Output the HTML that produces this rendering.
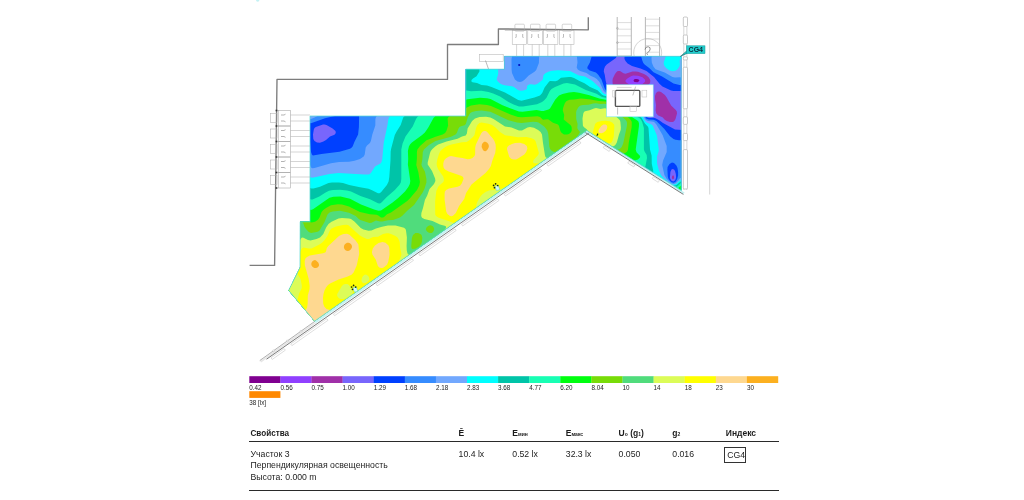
<!DOCTYPE html>
<html><head><meta charset="utf-8"><title>Report</title>
<style>
html,body{margin:0;padding:0;background:#fff;}
body{width:1024px;height:500px;overflow:hidden;position:relative;font-family:"Liberation Sans",sans-serif;}
svg{position:absolute;left:0;top:0;}
#w{position:absolute;left:0;top:0;width:1024px;height:500px;filter:blur(0.4px);}
.leg text{font-size:6.3px;fill:#222;}
.t{position:absolute;font-size:8.7px;color:#1c1c1c;white-space:nowrap;line-height:11.2px;}
.h{font-weight:bold;font-size:8.5px;}
.rule{position:absolute;left:249px;width:529.6px;background:#2a2a2a;}
sub{font-size:5px;vertical-align:baseline;position:relative;top:0.5px;}
</style></head>
<body>
<div id="w">
<svg width="1024" height="500" viewBox="0 0 1024 500">
<defs><clipPath id="hc"><polygon points="310,116 465.8,116 465.8,69.2 504.4,69.2 504.4,56.3 681.2,56.3 681.2,190.5 586.8,130.4 314.5,321.2 288.6,290.4 300,267.5 300.2,221.8 310,221.8"/></clipPath></defs>
<g clip-path="url(#hc)">
<polygon points="310,116 465.8,116 465.8,69.2 504.4,69.2 504.4,56.3 681.2,56.3 681.2,190.5 586.8,130.4 314.5,321.2 288.6,290.4 300,267.5 300.2,221.8 310,221.8" fill="#800090"/>
<path d="M284.0 52.0 685.5 52.0 685.5 325.5 284.0 325.5ZM635.1 79.0 634.0 79.5 633.5 80.5 634.0 81.5 634.7 82.0 637.5 82.2 639.3 81.0 639.2 80.0 638.5 79.5 637.0 79.0Z" fill="#9040ff" fill-rule="evenodd"/>
<path d="M284.0 52.0 685.5 52.0 685.5 325.5 284.0 325.5ZM633.3 75.5 631.5 76.0 628.9 77.5 626.7 79.0 625.5 80.5 625.5 81.5 626.3 82.5 630.0 85.1 633.5 86.1 638.5 85.3 642.5 84.1 644.8 82.0 645.2 81.0 644.9 79.5 642.5 77.2 638.0 75.7Z" fill="#a030a8" fill-rule="evenodd"/>
<path d="M284.0 52.0 685.5 52.0 685.5 325.5 284.0 325.5ZM617.8 71.0 616.5 72.0 615.0 74.0 612.8 78.5 612.5 80.5 612.7 84.5 613.5 87.0 616.5 88.2 627.5 89.3 631.0 90.7 634.0 93.1 643.9 103.5 648.0 108.8 649.0 109.4 650.0 108.8 651.1 107.5 651.6 106.0 651.8 104.0 651.5 102.0 646.7 92.5 644.0 90.0 643.6 89.0 644.6 87.5 649.0 84.2 650.0 83.0 650.3 81.5 650.2 80.0 648.8 77.5 646.6 75.5 644.0 73.9 638.0 71.8 635.5 71.5 632.5 71.6 625.5 73.7 623.5 73.2 620.0 71.1ZM657.9 91.5 656.0 93.0 655.0 96.0 655.1 99.5 656.0 105.0 655.6 110.5 656.3 113.5 658.2 115.5 662.5 117.3 664.5 119.5 666.7 121.0 670.0 122.1 673.0 121.9 674.5 120.8 675.5 119.0 677.0 113.5 676.8 111.5 675.8 110.0 671.1 105.5 666.7 97.5 664.9 95.0 661.0 92.1 659.5 91.5ZM673.0 175.2 672.0 176.5 671.9 178.0 672.5 179.0 673.0 179.2 673.9 178.5 674.1 177.0 673.5 175.5Z" fill="#7866fc" fill-rule="evenodd"/>
<path d="M284.0 52.0 616.7 52.0 616.8 56.0 615.9 58.0 606.7 64.5 605.0 66.6 604.0 69.2 603.8 71.5 604.8 75.0 605.6 80.5 607.3 87.0 608.1 88.5 609.8 89.5 612.5 90.2 625.5 91.4 629.1 93.0 633.0 96.5 644.0 108.0 645.2 110.5 646.5 116.3 647.5 117.6 649.5 118.0 653.5 117.8 655.5 118.3 658.8 120.0 663.0 122.9 675.0 129.5 685.5 130.2 685.5 325.5 284.0 325.5ZM323.0 124.5 315.8 127.0 314.5 128.0 313.8 129.5 313.0 134.5 313.3 139.0 314.5 141.1 317.0 142.4 320.0 142.7 323.4 141.5 326.0 140.0 330.0 136.5 334.5 134.7 335.8 133.0 335.5 131.0 332.6 128.5 326.5 125.0 324.5 124.5ZM671.5 169.5 670.4 172.0 669.9 178.0 671.2 180.5 672.5 181.3 673.5 181.4 674.9 180.5 675.7 179.0 676.1 177.0 675.8 174.0 675.0 171.0 674.0 169.6 672.5 169.0ZM624.5 52.0 685.5 52.0 685.5 90.8 673.5 91.1 671.0 90.4 662.5 86.5 659.7 84.0 654.0 77.0 646.5 71.0 640.5 68.4 632.0 66.0 627.6 63.5 625.5 61.0 624.5 59.0Z" fill="#0040ff" fill-rule="evenodd"/>
<path d="M284.0 52.0 329.3 52.0 329.3 103.5 329.5 104.5 330.6 105.5 334.0 107.0 336.0 107.2 339.7 106.5 349.8 103.0 353.4 100.0 357.3 95.0 357.5 52.0 592.9 52.0 589.9 62.5 587.4 67.0 587.4 68.5 589.7 70.5 595.9 72.5 598.0 74.4 601.5 79.6 604.7 88.5 606.0 90.4 609.5 91.7 622.0 92.8 626.0 94.2 631.9 99.0 643.0 110.2 644.1 112.5 645.2 117.0 646.5 118.8 649.0 119.6 653.5 119.7 656.4 121.0 664.4 129.0 670.0 136.3 673.5 139.1 675.5 139.8 679.0 140.3 685.5 140.3 685.5 325.5 284.0 325.5 284.0 156.7 299.5 156.7 301.0 156.4 302.0 155.6 303.5 153.5 304.3 151.5 306.8 139.0 308.5 133.8 309.0 133.8 309.5 135.6 311.0 152.0 312.0 154.7 313.0 155.4 321.5 153.9 339.5 151.7 350.0 148.8 351.5 147.8 352.6 146.5 354.5 141.7 358.1 134.5 358.9 127.0 359.1 117.0 358.7 114.5 357.8 113.5 356.0 113.0 352.5 112.9 341.7 114.5 325.0 118.3 311.0 123.3 305.0 122.1 284.0 122.1ZM672.0 162.5 669.5 164.1 667.6 167.0 667.4 169.5 667.8 176.5 668.3 178.5 669.7 180.5 671.5 182.1 673.5 182.7 675.5 181.7 677.2 179.0 678.1 175.5 678.1 172.0 677.5 168.0 676.4 165.5 674.0 163.0ZM655.6 199.5 654.0 200.5 652.5 202.2 651.3 204.5 651.5 205.3 656.0 202.0 658.0 199.5 657.5 199.1ZM640.5 52.0 685.5 52.0 685.5 84.8 679.5 85.0 673.5 83.5 662.1 76.5 653.5 72.3 649.5 68.3 644.6 64.5 643.3 63.0 642.3 60.5 640.8 55.0Z" fill="#368cff" fill-rule="evenodd"/>
<path d="M284.0 52.0 316.7 52.0 316.8 109.5 317.1 112.0 318.4 114.5 317.4 116.0 314.7 117.5 311.0 119.0 309.0 119.4 284.0 119.4ZM375.0 52.0 512.9 52.0 511.5 59.0 511.6 69.5 512.0 73.0 514.9 79.5 517.5 81.4 520.0 81.9 522.0 81.4 524.3 80.0 528.7 75.5 534.5 71.8 536.2 70.0 538.9 63.0 539.3 52.0 575.4 52.0 577.0 57.0 577.5 62.5 576.7 67.5 577.8 69.5 580.1 71.0 586.5 73.0 590.5 75.8 594.5 77.4 596.8 79.0 599.5 82.0 603.5 90.5 605.5 92.4 610.0 93.5 620.0 94.4 623.9 96.0 631.0 101.8 638.1 109.0 642.0 112.1 643.0 113.7 644.5 118.1 646.0 120.1 648.0 121.0 653.5 121.7 654.7 122.5 656.4 124.5 662.6 135.0 666.7 146.0 666.7 152.0 663.1 160.5 662.2 165.0 664.4 175.0 666.8 179.0 671.0 182.8 672.5 183.5 674.0 183.7 676.0 182.7 680.0 178.2 681.5 177.7 685.5 177.9 685.5 325.5 284.0 325.5 284.0 169.5 297.5 169.5 300.0 169.0 301.5 167.4 302.5 165.5 306.0 154.9 307.0 153.1 307.5 152.9 308.5 155.5 310.2 165.5 311.0 167.4 312.5 168.3 314.5 168.1 331.0 163.3 339.0 162.1 349.0 161.7 354.5 160.8 360.0 159.1 363.7 156.5 364.7 154.5 365.7 147.5 367.0 145.6 369.9 143.0 370.9 141.0 372.3 134.5 375.3 125.5 375.4 119.0 376.0 117.0 378.0 114.5 386.6 106.5 388.1 104.5 388.7 103.0 388.1 102.0 387.0 101.6 382.5 101.6 373.4 103.0 353.5 107.0 350.0 107.0 353.9 104.5 361.5 101.7 370.0 97.5 372.5 95.5 374.3 93.0 374.7 90.0ZM658.7 197.5 654.5 199.0 651.5 201.5 647.6 207.5 647.0 209.5 647.4 210.0 648.5 209.7 650.5 208.3 659.0 200.5 660.5 198.0 660.0 197.5ZM652.0 52.0 685.5 52.0 685.5 77.7 680.0 77.3 675.0 77.4 672.5 77.0 664.7 72.5 655.5 69.2 653.4 66.5 651.8 62.5 651.5 58.5Z" fill="#72a8fe" fill-rule="evenodd"/>
<path d="M389.0 52.0 487.7 52.0 489.1 55.0 493.5 60.3 496.0 62.5 497.0 64.1 497.9 68.5 498.3 72.5 498.0 74.8 496.7 79.0 496.9 80.0 497.8 81.5 500.0 83.5 502.0 84.6 504.5 85.2 512.0 86.2 514.0 87.1 517.9 90.0 520.5 90.8 523.4 90.5 526.2 89.5 527.0 88.5 527.0 86.0 529.0 84.5 531.0 84.2 535.0 84.7 537.5 83.8 542.4 80.0 543.0 78.5 543.4 75.5 544.0 74.4 545.8 73.0 549.0 71.5 552.0 70.7 558.0 70.3 570.0 70.9 579.0 75.6 585.0 76.6 592.5 81.0 599.5 87.5 602.5 92.4 604.5 94.0 608.5 95.0 617.5 95.9 620.6 97.0 630.5 104.9 637.2 111.5 641.0 114.0 642.0 115.1 644.0 119.4 645.5 121.6 647.0 122.7 651.5 124.4 652.7 125.5 656.9 135.5 658.8 149.5 658.6 151.5 657.0 156.5 657.1 163.5 658.8 170.0 660.9 175.0 663.1 177.5 667.8 181.5 671.0 183.7 673.0 184.5 674.5 184.6 676.0 184.0 680.5 180.0 685.5 179.4 685.5 325.5 284.0 325.5 284.0 178.0 297.0 178.0 299.5 177.5 301.0 176.2 302.0 174.4 304.5 167.5 306.0 164.5 306.5 164.6 307.0 165.6 309.1 175.5 310.0 177.0 312.0 177.7 316.0 177.1 329.5 173.9 338.5 173.1 364.5 174.6 368.5 174.5 369.8 174.0 370.9 173.0 375.0 166.5 380.5 163.5 381.5 162.0 382.2 159.5 383.7 143.0 387.4 125.5 388.3 119.5 389.0 117.6 392.3 114.0 413.7 96.5 416.8 93.5 418.1 91.5 417.5 90.4 414.0 90.2 394.0 93.6 389.0 93.9 387.8 93.5 388.7 88.5ZM658.9 196.5 653.8 198.5 648.6 203.0 646.3 206.0 644.3 209.5 643.6 211.5 644.0 212.8 646.0 212.7 648.5 211.2 660.1 200.5 662.1 198.0 662.3 196.5 661.0 196.1ZM666.1 52.0 685.5 52.0 685.5 57.5 682.0 58.2 680.1 59.5 679.6 61.0 679.9 64.5 679.5 66.3 677.5 69.2 675.5 70.8 672.5 71.3 669.7 70.5 666.0 68.0 664.2 65.5 663.7 64.0 663.8 62.0 665.8 56.5Z" fill="#00ffff" fill-rule="evenodd"/>
<path d="M402.0 52.0 481.4 52.0 480.9 59.5 476.6 66.5 477.0 67.3 479.4 69.5 479.4 71.5 476.5 76.3 473.0 78.5 471.5 80.0 471.4 81.5 472.5 82.2 477.0 82.9 481.5 85.0 487.0 85.6 491.5 87.0 505.0 92.4 518.2 100.0 521.5 100.8 534.5 97.5 540.0 95.4 542.2 93.0 544.6 87.5 549.0 81.8 550.0 81.0 555.5 81.3 557.6 80.5 561.0 77.7 569.0 76.9 571.0 77.1 574.0 78.1 579.5 81.1 584.5 83.2 590.0 86.9 597.5 90.3 601.8 94.5 603.5 95.5 607.5 96.6 615.4 97.5 618.1 98.5 625.5 104.7 630.0 108.0 635.7 113.5 640.8 116.5 644.9 123.5 647.8 126.5 648.5 128.0 650.0 149.5 651.6 155.5 651.8 164.0 653.1 170.0 653.3 174.0 654.2 175.0 660.5 178.1 670.5 184.4 673.5 185.6 675.0 185.6 676.5 185.1 681.0 181.3 685.5 180.5 685.5 325.5 284.0 325.5 284.0 190.0 295.5 190.0 298.0 189.4 300.0 187.1 302.4 180.0 304.0 176.7 305.0 175.6 305.5 175.8 306.0 176.9 308.5 185.8 310.0 187.9 311.5 188.6 313.5 188.5 320.0 186.8 328.5 182.9 332.0 182.5 339.0 182.5 343.0 183.1 349.2 185.0 360.0 187.3 368.5 188.8 371.5 189.9 378.0 193.3 379.5 193.3 381.0 192.2 386.9 185.0 388.6 181.5 389.3 177.0 390.5 160.5 390.7 151.5 391.2 148.5 394.8 135.0 396.5 131.7 400.7 125.0 403.2 117.5 407.1 113.5 443.7 83.5 447.1 80.0 448.8 77.0 448.5 76.4 446.0 76.3 438.1 78.0 432.0 79.8 426.5 82.6 415.5 85.1 408.0 86.1 404.9 85.5 403.5 84.5 402.8 82.5 402.7 58.5ZM661.7 195.0 654.5 197.3 646.0 202.8 629.6 209.0 626.5 211.5 594.0 263.2 593.0 265.8 592.7 268.5 592.8 276.5 593.0 277.8 593.5 278.4 594.5 277.9 596.5 275.5 638.6 219.0 641.0 216.8 646.0 214.1 649.0 212.0 659.7 202.0 663.0 198.5 664.1 196.5 664.0 195.5 663.0 194.9Z" fill="#00c4a8" fill-rule="evenodd"/>
<path d="M418.0 73.4 420.5 73.2 423.0 74.2 426.0 77.0 426.3 78.0 426.1 79.0 424.9 80.0 422.5 80.6 420.4 80.5 417.9 79.5 417.2 78.5 417.0 76.5 417.2 74.5ZM563.5 83.4 567.0 83.1 575.0 84.5 585.8 90.0 596.5 93.8 602.0 96.9 615.0 99.7 617.5 101.4 625.0 108.0 629.5 111.1 634.0 115.3 639.3 118.0 640.9 119.5 642.2 122.0 643.9 128.0 643.9 149.5 644.6 151.5 646.7 155.0 647.0 158.0 645.5 166.0 644.9 167.5 643.5 168.7 634.9 173.0 634.3 174.0 635.1 175.0 641.0 177.0 661.0 181.1 664.5 182.5 671.0 185.8 674.0 186.8 677.0 186.4 681.5 182.6 685.5 181.6 685.5 325.5 284.0 325.5 284.0 199.8 293.5 201.4 295.5 201.4 297.0 200.9 299.0 198.5 302.5 189.2 304.0 187.1 305.0 188.3 308.0 196.5 309.5 198.7 311.0 199.6 312.5 199.5 319.3 196.5 325.6 192.5 329.0 190.8 333.0 190.0 340.0 189.7 347.0 190.6 351.0 191.6 360.5 195.9 370.0 199.2 378.0 203.3 379.5 203.5 380.5 203.2 382.0 202.1 386.5 197.2 394.8 190.0 399.5 184.7 400.8 182.5 401.3 179.0 401.3 149.5 402.6 143.5 405.5 136.6 412.7 126.5 416.0 119.0 417.8 116.5 428.0 108.0 439.5 99.4 445.0 96.5 457.5 93.2 464.5 90.6 466.5 90.5 471.0 91.3 481.5 90.8 488.5 92.1 493.2 93.5 500.1 96.5 508.5 102.0 513.6 104.5 519.0 106.5 523.0 106.6 537.0 104.2 542.0 101.9 544.0 100.5 546.5 97.7 549.8 91.0 551.5 89.0 555.0 87.0ZM661.6 194.0 654.5 196.4 646.0 201.1 628.6 207.5 625.6 209.5 622.3 213.0 595.8 255.0 593.0 260.0 591.7 264.5 591.3 268.0 591.4 279.5 591.8 281.5 592.5 282.4 594.0 281.8 596.0 279.4 640.3 220.0 642.4 218.0 650.0 212.4 661.0 202.0 664.7 198.0 665.8 196.0 665.6 194.5 664.0 193.7Z" fill="#18ffb4" fill-rule="evenodd"/>
<path d="M569.0 92.4 574.0 92.0 579.0 92.8 589.5 95.2 599.2 98.5 612.1 101.0 615.0 102.9 624.0 110.9 628.5 113.9 633.0 117.7 637.0 120.2 638.4 121.5 639.0 123.5 638.9 126.5 635.7 149.5 636.5 152.3 640.1 156.0 640.0 157.5 638.0 159.5 633.1 161.0 631.2 162.0 628.7 165.5 626.9 167.0 615.8 172.5 614.6 174.0 615.4 175.0 617.7 176.0 623.5 177.5 664.0 185.2 675.0 188.8 678.0 188.2 682.7 184.0 685.5 183.2 685.5 325.5 284.0 325.5 284.0 202.3 287.0 202.9 296.0 207.0 298.0 207.4 299.5 206.1 302.5 199.5 303.5 199.1 308.0 208.0 309.5 209.6 311.0 210.1 313.0 209.3 329.5 197.8 333.5 196.7 340.5 196.5 350.0 198.8 361.0 204.4 374.1 209.5 378.5 210.8 381.0 210.6 392.6 202.5 398.2 198.0 405.0 191.5 408.3 187.0 409.8 184.0 410.3 181.0 407.9 164.5 408.2 159.0 407.9 151.0 408.9 146.5 410.0 144.5 411.9 142.5 422.1 135.0 424.9 132.5 428.3 127.5 433.5 118.0 435.4 116.0 438.5 113.8 453.0 105.2 460.5 101.7 467.5 99.3 480.0 97.7 487.0 98.2 490.5 99.0 502.5 105.3 519.0 111.6 522.5 111.7 536.5 110.1 541.5 110.9 543.5 110.9 548.5 109.4 550.0 108.5 555.3 99.5 559.0 95.6 562.5 93.9ZM662.4 192.5 654.5 195.2 647.0 199.0 629.0 205.7 618.5 211.7 601.5 218.0 598.5 219.6 595.7 222.5 594.0 225.0 592.5 228.3 591.4 234.0 591.3 256.0 590.4 267.5 590.5 278.5 590.9 283.0 592.0 285.1 593.5 285.2 595.7 283.0 642.0 221.0 651.0 213.3 666.6 198.0 668.0 195.5 667.8 193.5 667.0 192.7 665.5 192.2Z" fill="#00ff10" fill-rule="evenodd"/>
<path d="M574.0 99.6 581.0 98.6 589.0 99.3 599.0 100.9 605.5 101.5 609.6 102.5 612.5 104.4 623.2 114.0 629.0 117.9 630.8 120.0 631.8 122.0 631.7 127.0 628.8 142.5 628.0 149.5 627.2 151.5 626.0 152.6 624.0 153.5 609.2 156.0 604.5 157.3 601.5 158.5 600.5 159.5 600.7 160.5 606.4 164.5 606.9 166.0 604.8 168.0 596.1 172.5 595.0 173.5 595.1 174.5 596.6 175.5 601.6 177.0 643.3 185.5 649.5 187.5 651.2 189.0 650.3 190.5 645.4 194.0 631.8 200.0 621.0 207.0 598.5 216.3 592.0 220.2 590.5 221.9 589.8 237.0 589.8 279.5 590.0 283.5 591.5 289.5 591.2 303.5 592.0 325.5 284.0 325.5 284.0 203.8 288.0 205.0 298.5 210.3 300.0 210.6 302.0 210.3 303.0 210.6 306.7 216.5 309.0 220.9 310.0 221.9 311.5 222.5 315.0 221.7 318.0 219.7 319.5 217.4 321.6 212.0 323.3 210.0 326.0 207.9 331.0 205.3 338.0 204.2 342.0 204.5 349.0 206.6 360.0 212.1 370.0 214.3 376.5 214.7 378.3 215.5 381.0 217.6 383.0 217.6 384.1 217.0 387.0 214.2 391.0 212.6 407.2 201.0 409.8 198.5 417.0 189.9 419.2 185.5 419.9 182.0 418.4 172.5 416.3 165.0 416.9 158.5 416.9 152.0 417.4 149.5 420.0 146.0 426.5 140.3 435.5 136.7 442.6 134.5 445.1 133.0 446.5 130.7 448.1 125.5 447.6 118.5 448.5 117.0 450.5 115.5 471.0 105.5 479.5 104.2 487.0 105.0 491.0 106.1 510.5 114.5 518.0 117.0 522.0 117.3 537.5 116.2 540.1 117.0 543.0 119.7 547.0 119.3 548.5 119.6 553.0 122.7 558.0 124.6 559.0 126.1 560.4 131.0 561.5 132.7 564.0 134.4 567.0 134.6 569.0 134.0 571.0 132.2 571.7 130.5 571.7 128.0 571.4 126.5 570.4 125.0 563.7 119.5 564.2 115.0 562.8 110.5 563.1 108.0 564.9 103.0 566.6 101.0 569.5 99.8Z" fill="#78dc08" fill-rule="evenodd"/>
<path d="M593.0 103.5 596.0 103.3 600.5 103.9 605.0 103.8 608.0 104.7 625.2 119.5 626.5 121.0 627.1 123.0 626.9 126.0 623.2 143.5 621.7 147.0 619.7 149.0 617.5 149.8 614.0 150.1 593.0 148.9 582.0 147.5 579.0 146.5 578.0 145.5 578.8 142.5 577.3 139.0 577.2 137.0 580.0 132.0 578.0 129.5 577.3 128.0 577.6 124.0 576.2 119.0 576.1 112.5 576.5 110.5 578.5 107.1 580.5 105.6 583.0 105.0 588.5 104.8ZM476.0 111.0 481.5 110.6 490.5 111.7 508.5 120.2 517.0 122.6 521.5 123.0 533.0 121.8 536.5 121.9 538.5 122.5 544.5 126.7 547.3 130.5 548.3 134.0 549.3 146.5 550.0 148.7 551.3 150.5 552.5 151.3 554.5 151.9 565.4 153.0 569.8 154.0 570.5 155.0 569.9 157.0 571.2 158.5 583.1 163.5 585.3 165.0 585.6 166.0 584.6 167.5 575.6 173.0 575.1 174.0 575.9 175.0 581.7 177.0 604.4 182.0 609.1 183.5 610.7 184.5 610.6 185.5 609.0 186.3 594.4 190.5 590.0 192.5 589.3 193.5 589.3 194.5 592.3 198.0 592.7 199.5 591.2 201.0 588.1 202.5 576.0 206.5 519.1 223.0 510.4 226.0 508.2 227.0 507.3 228.0 510.0 228.4 515.5 228.2 552.5 224.9 556.5 225.0 559.7 226.0 561.5 226.1 567.4 225.0 580.5 221.4 585.0 221.6 586.7 222.5 588.0 226.0 588.8 233.0 589.0 281.0 589.8 289.0 589.3 295.0 589.3 304.0 590.0 325.5 284.0 325.5 284.0 205.6 285.8 206.0 289.0 207.5 295.1 211.0 297.1 212.5 298.1 214.5 298.5 220.7 299.0 222.6 299.5 222.8 301.5 221.8 302.5 222.2 303.4 223.5 304.6 227.0 306.0 229.1 308.5 231.8 311.0 232.9 316.5 232.1 318.2 231.5 319.5 230.5 324.5 222.0 327.5 214.5 329.5 212.5 332.5 211.4 340.0 210.8 349.0 212.8 355.8 216.0 358.8 219.0 360.3 220.0 369.5 223.0 371.5 222.7 376.0 220.6 380.0 221.4 382.5 221.4 388.0 220.3 393.0 219.9 399.9 217.5 402.0 216.0 407.5 210.5 414.0 205.0 422.5 192.7 424.5 188.7 426.4 182.5 426.4 179.0 424.9 171.5 422.0 166.5 421.4 164.5 422.4 159.0 422.8 152.0 423.9 149.5 428.9 145.0 435.5 141.1 451.0 136.7 455.5 134.6 456.8 133.0 458.5 128.5 459.5 127.1 461.0 126.2 464.5 125.2 465.8 124.0 467.9 117.0 470.0 113.3 472.0 111.9ZM429.1 225.5 427.5 226.4 426.5 227.5 425.9 229.0 426.0 230.0 427.1 231.5 428.5 232.5 430.0 233.0 431.5 232.9 432.5 232.4 433.6 231.0 434.2 229.5 434.0 228.0 433.0 226.5 432.0 225.8 430.5 225.3ZM415.4 233.0 413.0 235.0 411.9 238.0 411.2 246.5 411.5 248.2 412.5 249.1 415.0 248.7 419.0 246.4 421.2 244.0 422.0 241.5 422.3 237.5 421.5 235.0 420.3 234.0 418.0 232.9Z" fill="#50dc7c" fill-rule="evenodd"/>
<path d="M594.0 108.4 596.0 108.1 600.5 109.1 604.5 108.3 606.5 108.5 608.6 110.0 618.7 119.0 620.0 120.5 620.4 122.0 620.9 127.5 620.7 130.0 619.0 134.5 616.8 142.5 615.5 144.8 614.0 146.0 612.0 146.5 609.5 146.5 600.5 144.8 588.5 139.7 585.3 137.5 585.2 136.0 587.5 133.1 587.8 131.5 587.0 129.6 583.7 127.0 582.9 125.5 582.5 118.5 583.3 113.5 584.0 112.1 585.0 111.3 589.5 110.3ZM479.5 117.0 486.0 116.8 490.3 117.5 493.5 119.1 505.0 126.4 511.5 127.5 519.0 130.5 522.0 130.5 527.5 127.6 530.0 127.0 534.0 127.8 538.1 130.0 540.6 132.0 542.0 134.5 543.0 143.0 545.0 155.5 545.5 157.0 548.0 158.8 561.6 163.5 563.4 164.5 564.2 165.5 564.1 166.5 562.8 168.0 555.6 173.0 555.2 174.0 555.4 174.5 558.0 176.1 570.1 180.0 571.5 181.0 571.5 181.5 570.1 182.5 567.0 183.5 534.1 192.0 530.1 193.5 528.5 194.5 527.9 195.5 528.4 197.0 536.7 204.5 538.0 206.2 538.1 207.0 537.4 208.0 533.7 210.0 518.3 215.0 453.5 233.3 445.0 235.5 442.0 235.7 441.3 235.0 441.7 234.0 446.0 228.0 446.1 227.0 445.5 226.1 440.0 224.5 432.5 221.1 424.3 219.0 422.0 217.7 421.2 216.0 421.4 213.0 423.0 208.0 424.9 200.0 427.2 195.5 429.5 189.1 434.0 184.0 435.4 181.0 435.1 178.5 432.0 171.0 427.7 164.5 427.7 162.5 430.0 153.0 430.8 151.0 432.4 149.0 435.5 146.2 438.1 144.5 446.5 141.6 457.5 138.8 462.0 136.6 465.7 135.5 466.9 133.5 467.6 128.5 472.1 121.0 475.0 118.5ZM338.5 218.5 342.0 218.1 349.0 218.5 351.0 219.1 354.4 221.5 360.7 228.0 363.5 229.4 368.5 230.8 371.5 230.6 376.0 228.6 382.0 226.7 388.0 225.6 395.5 225.4 404.0 227.7 405.5 229.0 406.0 230.5 406.9 237.5 406.6 246.0 406.8 250.5 407.5 253.5 409.0 255.0 411.5 255.1 421.5 252.9 465.0 248.5 477.0 247.5 481.8 248.0 482.3 248.5 481.9 249.5 474.4 256.0 473.4 257.5 474.0 257.8 477.5 256.4 489.1 253.5 503.5 249.2 511.0 248.0 515.5 246.7 537.0 239.7 545.5 235.5 578.0 224.6 581.0 223.9 583.5 224.3 585.0 225.5 586.2 227.5 587.2 230.5 587.7 233.5 587.7 258.0 588.5 288.0 587.4 294.5 587.3 303.0 588.1 325.5 515.4 325.5 515.0 324.0 513.5 321.5 476.0 262.4 474.0 259.7 473.0 259.1 467.4 262.5 459.7 266.0 422.0 280.7 420.6 281.5 419.9 282.5 420.0 284.0 421.0 285.9 446.2 322.0 447.3 324.0 447.7 325.5 284.0 325.5 284.0 234.7 291.0 234.8 293.0 235.5 294.7 238.0 296.0 243.3 297.0 245.4 298.0 244.4 300.5 239.1 302.0 237.6 303.5 237.7 308.0 240.1 310.5 240.5 316.5 239.0 320.0 237.4 323.3 234.0 326.1 227.5 328.5 224.1 331.5 221.8Z" fill="#dcfc58" fill-rule="evenodd"/>
<path d="M601.5 121.0 605.5 120.7 609.5 121.3 612.2 122.5 614.1 124.5 614.4 126.0 613.8 136.5 612.4 141.0 611.5 142.4 610.5 143.0 608.0 142.9 596.5 138.4 593.7 137.0 592.6 135.5 593.1 131.0 595.1 124.0 596.0 122.9 597.4 122.0ZM481.5 122.5 488.5 123.7 492.0 125.0 495.5 127.4 500.0 132.1 505.0 135.2 518.0 137.2 526.5 136.9 531.5 138.2 534.3 139.5 535.7 141.5 538.9 153.0 538.2 155.0 533.6 160.0 533.0 162.0 533.5 162.8 534.5 163.2 539.0 163.5 541.0 164.0 542.5 165.0 542.9 166.0 541.4 168.0 534.8 173.0 533.9 174.5 533.8 177.0 532.0 178.5 513.5 183.7 500.0 189.2 496.5 189.8 489.5 190.2 485.5 191.9 482.2 194.5 480.1 197.0 477.3 202.0 476.2 205.5 476.4 207.0 477.0 207.8 483.3 213.5 483.5 214.5 482.9 215.5 479.4 217.5 472.4 220.0 460.0 223.6 456.0 224.0 452.0 222.2 438.2 217.5 436.0 216.0 435.2 214.5 435.1 201.5 436.3 191.0 438.5 186.2 443.3 182.0 444.0 180.0 443.2 176.5 438.6 170.0 437.0 166.5 436.6 163.5 437.3 159.5 438.8 154.5 440.1 151.5 442.0 149.4 445.2 147.0 448.3 145.5 451.5 144.5 462.0 142.2 466.5 141.9 469.0 140.5 473.0 137.0 474.5 135.0 476.0 128.0 477.4 125.0 479.5 123.0ZM343.0 224.9 346.5 224.7 348.5 225.3 359.5 235.2 363.0 237.3 367.0 239.0 369.0 239.0 373.0 237.0 378.0 236.8 383.0 234.1 386.5 233.2 388.5 233.3 391.0 234.1 395.5 236.1 397.5 237.5 398.7 239.5 399.8 242.5 400.1 248.0 401.3 253.0 401.4 255.0 399.3 260.5 393.9 268.0 393.5 269.5 394.0 270.0 395.5 270.3 404.5 270.3 406.0 270.7 406.4 271.5 404.1 274.0 391.2 283.0 389.5 284.5 388.9 285.5 389.5 286.0 392.5 286.0 400.5 284.5 412.5 281.5 415.0 281.8 443.0 322.0 444.7 325.5 379.0 325.5 377.8 322.5 365.5 304.9 363.5 302.8 361.5 302.2 359.0 302.8 352.5 305.3 350.9 306.5 350.4 308.0 351.4 310.5 360.0 323.0 360.9 325.5 284.0 325.5 284.0 310.1 287.0 308.7 297.2 300.0 297.9 298.5 298.9 294.0 301.8 288.0 301.8 285.5 300.8 280.0 300.0 277.9 297.5 274.0 296.9 270.5 299.0 256.0 300.0 252.3 301.5 249.0 302.5 247.9 303.5 247.5 308.5 248.6 311.5 248.4 319.0 244.8 322.0 242.8 324.2 240.5 327.4 236.0 330.0 230.3 331.5 228.4 336.0 226.5ZM364.1 275.0 362.3 277.0 361.4 280.0 362.0 282.1 363.0 283.0 364.0 283.2 366.0 282.7 367.9 281.5 369.1 280.0 369.4 278.5 368.6 276.5 367.0 275.1 365.5 274.6ZM345.1 284.0 343.5 284.6 341.9 286.0 337.2 294.0 337.1 295.5 337.8 297.0 339.0 298.3 340.4 299.0 343.5 298.9 348.5 296.9 351.4 295.0 353.0 292.5 352.6 290.5 348.9 285.0 347.3 284.0ZM579.0 226.4 581.5 226.2 583.0 227.1 585.0 230.2 586.1 233.5 586.2 258.0 586.8 280.5 586.7 285.5 586.0 287.3 585.0 287.1 584.0 286.2 546.0 242.7 544.5 240.0 545.2 238.5 547.0 237.5ZM284.0 245.8 289.0 245.9 291.0 246.4 292.0 247.4 293.0 249.8 293.2 253.0 292.1 268.0 291.4 270.0 290.0 270.8 284.0 269.3ZM505.0 251.9 508.0 252.0 510.5 254.2 559.0 321.3 560.5 323.6 561.1 325.5 518.3 325.5 517.8 323.5 516.7 321.5 485.0 271.6 479.6 262.5 479.8 261.0 481.5 259.8Z" fill="#ffff00" fill-rule="evenodd"/>
<path d="M603.5 124.4 605.5 124.4 606.9 125.5 607.3 127.0 606.8 129.0 605.5 131.0 603.5 132.5 601.5 133.2 599.5 133.0 598.8 132.5 598.4 131.5 598.8 129.5 601.3 126.0ZM484.0 130.9 485.5 130.9 487.0 131.8 492.8 138.5 494.4 141.0 495.6 144.5 495.8 148.0 495.2 153.0 492.2 161.0 490.9 166.0 489.0 169.0 485.5 173.0 471.5 184.6 466.1 193.0 464.2 199.0 459.1 206.0 455.8 213.0 453.0 215.8 451.5 216.2 450.0 216.0 447.4 214.0 446.2 211.5 444.6 199.5 444.6 194.0 444.9 191.5 446.1 190.0 449.0 188.6 457.5 186.8 460.0 185.7 461.7 183.5 463.3 179.5 463.5 178.0 462.5 176.5 461.0 175.7 448.7 171.5 445.0 169.6 443.8 168.0 443.3 166.0 443.3 163.5 443.9 161.0 445.0 159.3 446.5 158.0 449.0 156.4 451.0 155.9 457.0 157.2 462.5 157.9 467.5 159.3 470.0 159.1 472.5 157.9 474.5 156.0 475.1 154.5 475.2 147.5 475.9 144.5 481.1 133.5 482.5 131.7ZM515.0 143.0 520.0 142.8 524.2 144.0 526.8 146.0 527.4 148.5 526.2 152.0 524.3 154.5 518.0 158.5 516.0 159.4 514.0 159.6 511.5 159.0 509.3 157.0 506.9 149.0 507.4 147.0 508.9 145.5 512.0 143.9ZM343.5 234.0 347.0 233.7 349.5 234.8 355.6 240.5 358.4 244.5 359.2 254.0 356.7 265.5 353.6 272.5 351.5 274.7 347.0 276.8 338.5 279.4 330.1 283.5 328.0 285.0 326.0 287.5 324.5 290.5 323.5 294.0 323.0 297.5 323.2 303.5 324.2 306.5 326.5 309.0 330.0 310.1 331.0 310.9 332.3 314.0 338.9 323.0 339.8 325.5 289.3 325.5 289.9 324.0 291.3 322.5 305.5 310.5 307.1 307.5 307.7 303.5 307.8 295.5 309.6 289.0 309.7 286.0 308.6 278.5 304.9 265.5 304.7 261.0 305.4 258.5 307.0 256.9 309.9 255.5 323.0 253.2 325.2 252.5 326.0 251.5 326.8 248.0 328.3 246.0 339.0 236.1 341.0 234.9ZM382.5 242.0 385.5 242.8 388.5 245.5 389.3 248.0 389.6 254.5 388.3 261.5 387.1 264.5 384.0 267.3 382.5 268.0 381.0 268.1 379.3 267.5 377.9 266.0 375.7 259.5 372.4 254.5 371.9 252.0 372.8 248.5 375.0 245.4 378.5 243.1Z" fill="#fed890" fill-rule="evenodd"/>
<path d="M484.0 141.8 485.5 141.7 487.0 142.4 488.3 144.0 488.8 145.5 488.8 147.0 487.9 149.0 486.7 150.5 485.5 151.2 484.0 150.9 483.0 150.1 481.6 147.0 482.0 144.0ZM347.0 242.8 348.5 242.7 350.0 243.3 351.3 244.5 352.0 246.0 351.9 247.5 351.0 249.3 349.5 250.6 348.0 251.1 346.5 250.8 345.5 250.2 344.4 249.0 343.9 247.5 344.0 246.0 344.5 244.8 345.5 243.7ZM313.5 260.4 315.0 260.1 316.0 260.4 318.2 262.5 318.9 264.0 319.0 265.5 318.5 266.6 317.5 267.5 316.0 268.0 314.5 267.9 313.0 267.3 311.8 266.0 311.3 264.5 311.4 263.0 312.2 261.5Z" fill="#fcb020" fill-rule="evenodd"/>
</g>
<polyline points="249.6,265.4 274.6,265.4 277,79.4 447.5,79.4 447.5,44.5 498.4,44.5 498.4,28.9 588.3,29.8 588.3,17.3" fill="none" stroke="#7c7c7c" stroke-width="1.35" stroke-linejoin="round"/>
<rect x="275.6" y="109.7" width="1.8" height="1.6" fill="#333"/>
<rect x="275.6" y="125.2" width="1.8" height="1.6" fill="#333"/>
<rect x="275.6" y="140.7" width="1.8" height="1.6" fill="#333"/>
<rect x="275.6" y="156.2" width="1.8" height="1.6" fill="#333"/>
<rect x="275.6" y="171.7" width="1.8" height="1.6" fill="#333"/>
<rect x="275.6" y="187.2" width="1.8" height="1.6" fill="#333"/>
<rect x="278.2" y="110.5" width="12.3" height="15.5" fill="none" stroke="#999" stroke-width="0.5"/>
<rect x="270.5" y="113.5" width="6.5" height="9" fill="none" stroke="#aaa" stroke-width="0.5"/>
<line x1="290.5" y1="115" x2="310" y2="115" stroke="#aaa" stroke-width="0.5"/>
<line x1="290.5" y1="121" x2="310" y2="121" stroke="#aaa" stroke-width="0.5"/>
<path d="M281 115 h3 l1.5 -0.8 M281 121 h3 l1.5 0.8" fill="none" stroke="#666" stroke-width="0.5"/>
<rect x="278.2" y="126" width="12.3" height="15.5" fill="none" stroke="#999" stroke-width="0.5"/>
<rect x="270.5" y="129" width="6.5" height="9" fill="none" stroke="#aaa" stroke-width="0.5"/>
<line x1="290.5" y1="130.5" x2="310" y2="130.5" stroke="#aaa" stroke-width="0.5"/>
<line x1="290.5" y1="136.5" x2="310" y2="136.5" stroke="#aaa" stroke-width="0.5"/>
<path d="M281 130.5 h3 l1.5 -0.8 M281 136.5 h3 l1.5 0.8" fill="none" stroke="#666" stroke-width="0.5"/>
<rect x="278.2" y="141.5" width="12.3" height="15.5" fill="none" stroke="#999" stroke-width="0.5"/>
<rect x="270.5" y="144.5" width="6.5" height="9" fill="none" stroke="#aaa" stroke-width="0.5"/>
<line x1="290.5" y1="146" x2="310" y2="146" stroke="#aaa" stroke-width="0.5"/>
<line x1="290.5" y1="152" x2="310" y2="152" stroke="#aaa" stroke-width="0.5"/>
<path d="M281 146 h3 l1.5 -0.8 M281 152 h3 l1.5 0.8" fill="none" stroke="#666" stroke-width="0.5"/>
<rect x="278.2" y="157" width="12.3" height="15.5" fill="none" stroke="#999" stroke-width="0.5"/>
<rect x="270.5" y="160" width="6.5" height="9" fill="none" stroke="#aaa" stroke-width="0.5"/>
<line x1="290.5" y1="161.5" x2="310" y2="161.5" stroke="#aaa" stroke-width="0.5"/>
<line x1="290.5" y1="167.5" x2="310" y2="167.5" stroke="#aaa" stroke-width="0.5"/>
<path d="M281 161.5 h3 l1.5 -0.8 M281 167.5 h3 l1.5 0.8" fill="none" stroke="#666" stroke-width="0.5"/>
<rect x="278.2" y="172.5" width="12.3" height="15.5" fill="none" stroke="#999" stroke-width="0.5"/>
<rect x="270.5" y="175.5" width="6.5" height="9" fill="none" stroke="#aaa" stroke-width="0.5"/>
<line x1="290.5" y1="177" x2="310" y2="177" stroke="#aaa" stroke-width="0.5"/>
<line x1="290.5" y1="183" x2="310" y2="183" stroke="#aaa" stroke-width="0.5"/>
<path d="M281 177 h3 l1.5 -0.8 M281 183 h3 l1.5 0.8" fill="none" stroke="#666" stroke-width="0.5"/>
<rect x="512.2" y="30.5" width="14.5" height="14" fill="none" stroke="#aaa" stroke-width="0.5"/>
<rect x="514.9" y="24.2" width="9.5" height="7" rx="1" fill="none" stroke="#aaa" stroke-width="0.5"/>
<path d="M516.2 34 v3 l-0.8 1 M522.7 34 v3 l0.8 1" fill="none" stroke="#777" stroke-width="0.5"/>
<line x1="516.6" y1="44.5" x2="516.6" y2="56.3" stroke="#aaa" stroke-width="0.5"/>
<line x1="523.6" y1="44.5" x2="523.6" y2="56.3" stroke="#aaa" stroke-width="0.5"/>
<rect x="527.8" y="30.5" width="14.5" height="14" fill="none" stroke="#aaa" stroke-width="0.5"/>
<rect x="530.5" y="24.2" width="9.5" height="7" rx="1" fill="none" stroke="#aaa" stroke-width="0.5"/>
<path d="M531.8 34 v3 l-0.8 1 M538.3 34 v3 l0.8 1" fill="none" stroke="#777" stroke-width="0.5"/>
<line x1="532.2" y1="44.5" x2="532.2" y2="56.3" stroke="#aaa" stroke-width="0.5"/>
<line x1="539.2" y1="44.5" x2="539.2" y2="56.3" stroke="#aaa" stroke-width="0.5"/>
<rect x="543.4" y="30.5" width="14.5" height="14" fill="none" stroke="#aaa" stroke-width="0.5"/>
<rect x="546.1" y="24.2" width="9.5" height="7" rx="1" fill="none" stroke="#aaa" stroke-width="0.5"/>
<path d="M547.4 34 v3 l-0.8 1 M553.9 34 v3 l0.8 1" fill="none" stroke="#777" stroke-width="0.5"/>
<line x1="547.8" y1="44.5" x2="547.8" y2="56.3" stroke="#aaa" stroke-width="0.5"/>
<line x1="554.8" y1="44.5" x2="554.8" y2="56.3" stroke="#aaa" stroke-width="0.5"/>
<rect x="559.5" y="30.5" width="14.5" height="14" fill="none" stroke="#aaa" stroke-width="0.5"/>
<rect x="562.2" y="24.2" width="9.5" height="7" rx="1" fill="none" stroke="#aaa" stroke-width="0.5"/>
<path d="M563.5 34 v3 l-0.8 1 M570 34 v3 l0.8 1" fill="none" stroke="#777" stroke-width="0.5"/>
<line x1="563.9" y1="44.5" x2="563.9" y2="56.3" stroke="#aaa" stroke-width="0.5"/>
<line x1="570.9" y1="44.5" x2="570.9" y2="56.3" stroke="#aaa" stroke-width="0.5"/>
<line x1="504.8" y1="30.5" x2="527.5" y2="30.5" stroke="#aaa" stroke-width="0.5"/>
<rect x="479.4" y="54.5" width="23.8" height="7" fill="#fff" stroke="#bbb" stroke-width="0.6"/>
<line x1="485.5" y1="60.5" x2="488.5" y2="69" stroke="#777" stroke-width="0.5"/>
<line x1="617.2" y1="17" x2="617.2" y2="56.3" stroke="#999" stroke-width="0.7"/>
<line x1="631.3" y1="17" x2="631.3" y2="56.3" stroke="#999" stroke-width="0.7"/>
<line x1="617.2" y1="22.6" x2="631.3" y2="22.6" stroke="#bbb" stroke-width="0.5"/>
<line x1="617.2" y1="29.2" x2="631.3" y2="29.2" stroke="#bbb" stroke-width="0.5"/>
<line x1="617.2" y1="35.8" x2="631.3" y2="35.8" stroke="#bbb" stroke-width="0.5"/>
<line x1="617.2" y1="42.4" x2="631.3" y2="42.4" stroke="#bbb" stroke-width="0.5"/>
<line x1="617.2" y1="49" x2="631.3" y2="49" stroke="#bbb" stroke-width="0.5"/>
<line x1="617.2" y1="55.6" x2="631.3" y2="55.6" stroke="#bbb" stroke-width="0.5"/>
<line x1="645.4" y1="17" x2="645.4" y2="56.3" stroke="#999" stroke-width="0.7"/>
<line x1="659.6" y1="17" x2="659.6" y2="56.3" stroke="#999" stroke-width="0.7"/>
<line x1="645.4" y1="19.2" x2="659.6" y2="19.2" stroke="#bbb" stroke-width="0.5"/>
<line x1="645.4" y1="25.8" x2="659.6" y2="25.8" stroke="#bbb" stroke-width="0.5"/>
<line x1="645.4" y1="32.4" x2="659.6" y2="32.4" stroke="#bbb" stroke-width="0.5"/>
<line x1="645.4" y1="39" x2="659.6" y2="39" stroke="#bbb" stroke-width="0.5"/>
<line x1="645.4" y1="45.6" x2="659.6" y2="45.6" stroke="#bbb" stroke-width="0.5"/>
<line x1="645.4" y1="52.2" x2="659.6" y2="52.2" stroke="#bbb" stroke-width="0.5"/>
<circle cx="617.4" cy="28.3" r="0.9" fill="none" stroke="#999" stroke-width="0.5"/>
<circle cx="617.4" cy="42.6" r="0.9" fill="none" stroke="#999" stroke-width="0.5"/>
<path d="M634.2 56.3 A14 14 0 1 1 661.2 56.3" fill="none" stroke="#aaa" stroke-width="0.5"/>
<path d="M645 49.5 q0.5 -3 3.2 -2.8 q2.8 0.5 1.8 3.3 q-1 2 -3.3 3.5 l1 1.3" fill="none" stroke="#666" stroke-width="0.7"/>
<line x1="683.8" y1="17" x2="683.8" y2="190" stroke="#bbb" stroke-width="0.6"/>
<line x1="686.9" y1="17" x2="686.9" y2="190" stroke="#bbb" stroke-width="0.6"/>
<rect x="683.3" y="17" width="4.2" height="9.5" rx="1.2" fill="#fff" stroke="#aaa" stroke-width="0.6"/>
<rect x="683.3" y="35" width="4.2" height="9" rx="1.2" fill="#fff" stroke="#aaa" stroke-width="0.6"/>
<rect x="683.3" y="56.8" width="4.2" height="3.2" rx="1.2" fill="#fff" stroke="#aaa" stroke-width="0.6"/>
<rect x="683.3" y="67.2" width="4.2" height="41.6" rx="1.2" fill="#fff" stroke="#aaa" stroke-width="0.6"/>
<rect x="683.3" y="116.8" width="4.2" height="7.6" rx="1.2" fill="#fff" stroke="#aaa" stroke-width="0.6"/>
<rect x="683.3" y="133.4" width="4.2" height="7.2" rx="1.2" fill="#fff" stroke="#aaa" stroke-width="0.6"/>
<rect x="683.3" y="149.6" width="4.2" height="39.4" rx="1.2" fill="#fff" stroke="#aaa" stroke-width="0.6"/>
<line x1="709.7" y1="17" x2="709.7" y2="194.5" stroke="#c8c8c8" stroke-width="0.8"/>
<line x1="260.63" y1="361.77" x2="315.53" y2="322.67" stroke="#e6e6e6" stroke-width="1.6"/>
<line x1="315.36" y1="322.43" x2="587.66" y2="131.63" stroke="#c4f2f2" stroke-width="2.2"/>
<line x1="586.11" y1="131.5" x2="684.11" y2="193.3" stroke="#c4f2f2" stroke-width="1.8"/>
<line x1="259.77" y1="360.55" x2="314.67" y2="321.45" stroke="#8e8e8e" stroke-width="0.7"/>
<line x1="266.55" y1="359.18" x2="588.75" y2="133.18" stroke="#6a6a6a" stroke-width="0.9"/>
<line x1="585.41" y1="132.6" x2="683.41" y2="194.4" stroke="#6a6a6a" stroke-width="0.9"/>
<rect x="0" y="5.0" width="16.05" height="2" fill="none" stroke="#c2c2c2" stroke-width="0.5" transform="translate(268.16 353.69) rotate(-35.02)"/>
<rect x="0" y="5.0" width="44.12" height="2" fill="none" stroke="#c2c2c2" stroke-width="0.5" transform="translate(287.87 339.88) rotate(-35.02)"/>
<rect x="0" y="5.0" width="44.12" height="2" fill="none" stroke="#c2c2c2" stroke-width="0.5" transform="translate(330.57 309.96) rotate(-35.02)"/>
<rect x="0" y="5.0" width="44.12" height="2" fill="none" stroke="#c2c2c2" stroke-width="0.5" transform="translate(373.27 280.03) rotate(-35.02)"/>
<rect x="0" y="5.0" width="44.12" height="2" fill="none" stroke="#c2c2c2" stroke-width="0.5" transform="translate(415.98 250.1) rotate(-35.02)"/>
<rect x="0" y="5.0" width="44.12" height="2" fill="none" stroke="#c2c2c2" stroke-width="0.5" transform="translate(458.68 220.18) rotate(-35.02)"/>
<rect x="0" y="5.0" width="44.12" height="2" fill="none" stroke="#c2c2c2" stroke-width="0.5" transform="translate(501.39 190.25) rotate(-35.02)"/>
<rect x="0" y="5.0" width="40.11" height="2" fill="none" stroke="#c2c2c2" stroke-width="0.5" transform="translate(544.1 160.33) rotate(-35.02)"/>
<rect x="0" y="3.6" width="7" height="2.2" fill="none" stroke="#c4c4c4" stroke-width="0.5" transform="translate(606.4 142.76) rotate(32.24)"/>
<rect x="0" y="3.6" width="7" height="2.2" fill="none" stroke="#c4c4c4" stroke-width="0.5" transform="translate(630.9 158.21) rotate(32.24)"/>
<rect x="0" y="3.6" width="7" height="2.2" fill="none" stroke="#c4c4c4" stroke-width="0.5" transform="translate(655.4 173.66) rotate(32.24)"/>
<circle cx="273.5" cy="350.77" r="0.9" fill="#fff" stroke="#aaa" stroke-width="0.4"/>
<circle cx="287.22" cy="341" r="0.9" fill="#fff" stroke="#aaa" stroke-width="0.4"/>
<circle cx="300.95" cy="331.22" r="0.9" fill="#fff" stroke="#aaa" stroke-width="0.4"/>
<rect x="606.6" y="84.8" width="46.6" height="32" fill="#fff" stroke="#7ee8f0" stroke-width="0.6"/>
<rect x="615.4" y="90.4" width="24.4" height="16" rx="1" fill="none" stroke="#555" stroke-width="1.4"/>
<rect x="612.8" y="90.6" width="2.8" height="6.4" fill="none" stroke="#bbb" stroke-width="0.5"/>
<rect x="642" y="90.2" width="4.8" height="6.8" fill="none" stroke="#bbb" stroke-width="0.5"/>
<rect x="630" y="106.6" width="6.4" height="4.8" fill="none" stroke="#bbb" stroke-width="0.5"/>
<line x1="616.8" y1="87.4" x2="631.6" y2="87.4" stroke="#aaa" stroke-width="0.5"/>
<line x1="635.6" y1="86.6" x2="632.8" y2="95.4" stroke="#888" stroke-width="0.5"/>
<line x1="617.6" y1="107.4" x2="617.6" y2="114.6" stroke="#999" stroke-width="0.6"/>
<polygon points="310,116 465.8,116 465.8,69.2 504.4,69.2 504.4,56.3 681.2,56.3 681.2,190.5 586.8,130.4 314.5,321.2 288.6,290.4 300,267.5 300.2,221.8 310,221.8" fill="none" stroke="#56d8d4" stroke-width="0.75"/>
<path d="M353 288 l3.2 -1.2 l1.6 4.6 l-3.4 0.6 z" fill="#d8f8f8" stroke="#50d0c8" stroke-width="0.5"/>
<circle cx="351.6" cy="287" r="0.85" fill="#1a2a10"/>
<circle cx="353.6" cy="285.4" r="0.85" fill="#1a2a10"/>
<circle cx="355.7" cy="287.1" r="0.85" fill="#1a2a10"/>
<circle cx="352.5" cy="289.3" r="0.85" fill="#1a2a10"/>
<path d="M495 186.4 l3.2 -1.2 l1.6 4.6 l-3.4 0.6 z" fill="#d8f8f8" stroke="#50d0c8" stroke-width="0.5"/>
<circle cx="493.6" cy="185.4" r="0.85" fill="#1a2a10"/>
<circle cx="495.6" cy="183.8" r="0.85" fill="#1a2a10"/>
<circle cx="497.7" cy="185.5" r="0.85" fill="#1a2a10"/>
<circle cx="494.5" cy="187.7" r="0.85" fill="#1a2a10"/>
<path d="M596.8 135.8 l1.2 -2.2" stroke="#1a3a10" stroke-width="1.2"/>
<path d="M680.4 56.4 L687 50.6 L687 53.4 Z" fill="#22cccc" stroke="#1a5050" stroke-width="0.5"/>
<rect x="686.5" y="45.8" width="18.5" height="7.8" fill="#22cccc" stroke="#139a9a" stroke-width="0.5"/>
<text x="695.8" y="52.4" font-size="7" font-weight="bold" text-anchor="middle" fill="#0a2c3c" font-family="Liberation Sans, sans-serif">CG4</text>
<circle cx="519.2" cy="65" r="1.1" fill="#0010c0"/>
<path d="M256 0 a1.7 1.7 0 0 0 3.4 0" fill="#c4f2f4"/>
<g class="leg" font-family="Liberation Sans, sans-serif">
<rect x="249.3" y="376.2" width="31.3" height="6.8" fill="#800090"/>
<text x="249.3" y="389.9">0.42</text>
<rect x="280.4" y="376.2" width="31.3" height="6.8" fill="#9040ff"/>
<text x="280.4" y="389.9">0.56</text>
<rect x="311.5" y="376.2" width="31.3" height="6.8" fill="#a030a8"/>
<text x="311.5" y="389.9">0.75</text>
<rect x="342.6" y="376.2" width="31.3" height="6.8" fill="#7866fc"/>
<text x="342.6" y="389.9">1.00</text>
<rect x="373.7" y="376.2" width="31.3" height="6.8" fill="#0040ff"/>
<text x="373.7" y="389.9">1.29</text>
<rect x="404.8" y="376.2" width="31.3" height="6.8" fill="#368cff"/>
<text x="404.8" y="389.9">1.68</text>
<rect x="435.9" y="376.2" width="31.3" height="6.8" fill="#72a8fe"/>
<text x="435.9" y="389.9">2.18</text>
<rect x="467" y="376.2" width="31.3" height="6.8" fill="#00ffff"/>
<text x="467" y="389.9">2.83</text>
<rect x="498.1" y="376.2" width="31.3" height="6.8" fill="#00c4a8"/>
<text x="498.1" y="389.9">3.68</text>
<rect x="529.2" y="376.2" width="31.3" height="6.8" fill="#18ffb4"/>
<text x="529.2" y="389.9">4.77</text>
<rect x="560.3" y="376.2" width="31.3" height="6.8" fill="#00ff10"/>
<text x="560.3" y="389.9">6.20</text>
<rect x="591.4" y="376.2" width="31.3" height="6.8" fill="#78dc08"/>
<text x="591.4" y="389.9">8.04</text>
<rect x="622.5" y="376.2" width="31.3" height="6.8" fill="#50dc7c"/>
<text x="622.5" y="389.9">10</text>
<rect x="653.6" y="376.2" width="31.3" height="6.8" fill="#dcfc58"/>
<text x="653.6" y="389.9">14</text>
<rect x="684.7" y="376.2" width="31.3" height="6.8" fill="#ffff00"/>
<text x="684.7" y="389.9">18</text>
<rect x="715.8" y="376.2" width="31.3" height="6.8" fill="#fed890"/>
<text x="715.8" y="389.9">23</text>
<rect x="746.9" y="376.2" width="31.3" height="6.8" fill="#fcb020"/>
<text x="746.9" y="389.9">30</text>
<rect x="249.3" y="391.2" width="31.1" height="6.7" fill="#ff8800"/>
<text x="249.3" y="405.4">38 [lx]</text>
</g>
</svg>
<div class="t h" style="left:250.5px;top:428px;font-size:8.15px;">Свойства</div>
<div class="t h" style="left:458.6px;top:427.9px;">Ē</div>
<div class="t h" style="left:512.3px;top:427.9px;">E<sub>мин</sub></div>
<div class="t h" style="left:565.8px;top:427.9px;">E<sub>макс</sub></div>
<div class="t h" style="left:618.6px;top:427.9px;">U<sub>o</sub> (g<sub>1</sub>)</div>
<div class="t h" style="left:672.3px;top:427.9px;">g<sub>2</sub></div>
<div class="t h" style="left:725.8px;top:427.9px;">Индекс</div>
<div class="rule" style="top:440.8px;height:1.4px;"></div>
<div class="t" style="left:250.5px;top:449.2px;">Участок 3<br>Перпендикулярная освещенность<br>Высота: 0.000 m</div>
<div class="t" style="left:458.6px;top:449.2px;">10.4 lx</div>
<div class="t" style="left:512.3px;top:449.2px;">0.52 lx</div>
<div class="t" style="left:565.8px;top:449.2px;">32.3 lx</div>
<div class="t" style="left:618.6px;top:449.2px;">0.050</div>
<div class="t" style="left:672.3px;top:449.2px;">0.016</div>
<div style="position:absolute;left:724.3px;top:447.4px;width:19.8px;height:13.2px;border:1px solid #333;"></div>
<div class="t" style="left:727.3px;top:449.5px;">CG4</div>
<div class="rule" style="top:490px;height:1.3px;"></div>
</div>
</body></html>
